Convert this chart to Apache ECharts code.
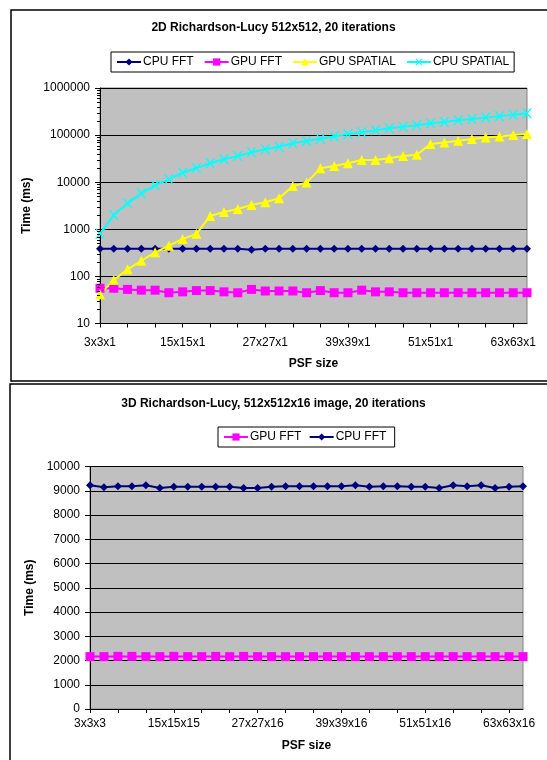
<!DOCTYPE html>
<html>
<head>
<meta charset="utf-8">
<script src="https://cdn.jsdelivr.net/npm/echarts@6/dist/echarts.min.js"></script>
<style>
html,body{margin:0;padding:0;background:#fff;}
#c{width:547px;height:760px;}
</style>
</head>
<body>
<div id="c"></div>
<script>
// ---- Data: 2D chart ----
const psf2D = ['3x3x1','5x5x1','7x7x1','9x9x1','11x11x1','13x13x1','15x15x1','17x17x1','19x19x1','21x21x1','23x23x1','25x25x1','27x27x1','29x29x1','31x31x1','33x33x1','35x35x1','37x37x1','39x39x1','41x41x1','43x43x1','45x45x1','47x47x1','49x49x1','51x51x1','53x53x1','55x55x1','57x57x1','59x59x1','61x61x1','63x63x1','65x65x1'];
const cpuFft2D = [385,385,385,385,385,385,385,385,385,385,385,370,385,385,385,385,385,385,385,385,385,385,385,385,385,385,385,385,385,385,385,385];
const gpuFft2D = [56,56,53,51,51,45,47,50,50,47,45,53,49,49,49,45,50,45,45,51,47,47,45,45,45,45,45,45,45,45,45,45];
const gpuSpatial2D = [42,84,141,215,325,450,620,800,1920,2330,2700,3300,3740,4560,8300,9800,19700,22000,25200,29600,29600,32300,36000,38400,65000,70000,76000,83000,88600,93000,100000,105000];
const cpuSpatial2D = [800,2000,3560,5800,8700,11500,15900,20000,25200,30600,36000,43000,50000,56500,67000,75000,83500,93000,105000,115000,126000,139000,150000,161000,178000,190000,206000,220000,235000,250000,272000,290000];

// ---- Data: 3D chart ----
const psf3D = ['3x3x3','5x5x5','7x7x7','9x9x9','11x11x11','13x13x13','15x15x15','17x17x16','19x19x16','21x21x16','23x23x16','25x25x16','27x27x16','29x29x16','31x31x16','33x33x16','35x35x16','37x37x16','39x39x16','41x41x16','43x43x16','45x45x16','47x47x16','49x49x16','51x51x16','53x53x16','55x55x16','57x57x16','59x59x16','61x61x16','63x63x16','65x65x16'];
const gpuFft3D = [2160,2160,2170,2170,2160,2160,2170,2160,2160,2170,2160,2170,2160,2160,2160,2160,2160,2160,2160,2160,2160,2160,2160,2160,2160,2160,2160,2160,2160,2160,2160,2160];
const cpuFft3D = [9230,9140,9190,9190,9230,9110,9165,9165,9165,9165,9165,9110,9110,9165,9190,9190,9190,9190,9190,9230,9165,9190,9190,9165,9165,9110,9230,9190,9230,9110,9165,9190];

const titles = ['2D Richardson-Lucy 512x512, 20 iterations', '3D Richardson-Lucy, 512x512x16 image, 20 iterations'];
const yName = 'Time (ms)';
const xName = 'PSF size';

const FONT = '"Liberation Sans", Arial, sans-serif';
const NAVY = '#000080', MAG = '#FF00FF', YEL = '#FFFF00', CYAN = '#00FFFF';
const XSYM = 'path://M0,0L1.6,0L5,4L8.4,0L10,0L6,5L10,10L8.4,10L5,6L1.6,10L0,10L4,5Z';

const chart = echarts.init(document.getElementById('c'), null, {renderer: 'canvas'});

function xAxis(gi, data, margin, nameGap) {
  return {
    type: 'category', gridIndex: gi, data: data, boundaryGap: false,
    axisLine: {show: true, lineStyle: {color: '#000', width: 1}},
    axisTick: {show: true, interval: 1, length: 4, inside: false, lineStyle: {color: '#000'}},
    axisLabel: {interval: 5, color: '#000', fontFamily: FONT, fontSize: 12, margin: margin, hideOverlap: false},
    splitLine: {show: false},
    name: xName, nameLocation: 'middle', nameGap: nameGap,
    nameTextStyle: {color: '#000', fontFamily: FONT, fontSize: 12, fontWeight: 'bold'}
  };
}

function lineSeries(name, xi, data, symbol, size, col) {
  return {name: name, type: 'line', xAxisIndex: xi, yAxisIndex: xi, data: data,
    symbol: symbol, symbolSize: size, showSymbol: true, showAllSymbol: true,
    color: col, itemStyle: {color: col}, lineStyle: {color: col, width: 2},
    emphasis: {disabled: true}};
}

function legendStyle(gap) {
  return {orient: 'horizontal', itemWidth: 24, itemHeight: 9, itemGap: gap,
    padding: [4, 5], borderColor: '#000', borderWidth: 1, backgroundColor: '#fff',
    textStyle: {fontFamily: FONT, fontSize: 12, color: '#000', padding: [0,0,0,-3]}};
}

const option = {
  animation: false,
  backgroundColor: '#fff',
  title: [
    {text: titles[0], left: 'center', top: 22, padding: 0,
     textStyle: {fontFamily: FONT, fontSize: 12, fontWeight: 'bold', color: '#000'}},
    {text: titles[1], left: 'center', top: 398, padding: 0,
     textStyle: {fontFamily: FONT, fontSize: 12, fontWeight: 'bold', color: '#000'}}
  ],
  legend: [
    Object.assign({left: 111, top: 52, data: ['CPU FFT', 'GPU FFT', 'GPU SPATIAL', 'CPU SPATIAL']}, legendStyle(10)),
    Object.assign({left: 218, top: 427, data: ['GPU FFT ', 'CPU FFT ']}, legendStyle(4))
  ],
  grid: [
    {left: 100, top: 88, width: 427, height: 235.5, show: true, backgroundColor: '#C0C0C0', borderColor: '#808080', borderWidth: 1, containLabel: false},
    {left: 90, top: 466.5, width: 433, height: 242.5, show: true, backgroundColor: '#C0C0C0', borderColor: '#808080', borderWidth: 1, containLabel: false}
  ],
  xAxis: [xAxis(0, psf2D, 13, 34), xAxis(1, psf3D, 9, 31)],
  yAxis: [
    {type: 'log', logBase: 10, gridIndex: 0, min: 10, max: 1000000, splitNumber: 5,
     axisLine: {show: true, lineStyle: {color: '#000', width: 1}},
     axisTick: {show: true, length: 5, lineStyle: {color: '#000'}},
     axisLabel: {color: '#000', fontFamily: FONT, fontSize: 12, margin: 10,
       formatter: function (v) { return String(Math.round(v)); }},
     splitLine: {show: true, lineStyle: {color: '#000', width: 1}},
     name: yName, nameLocation: 'middle', nameGap: 66, nameRotate: 90,
     nameTextStyle: {color: '#000', fontFamily: FONT, fontSize: 12, fontWeight: 'bold'}},
    {type: 'value', gridIndex: 1, min: 0, max: 10000, interval: 1000,
     axisLine: {show: true, lineStyle: {color: '#000', width: 1}},
     axisTick: {show: true, length: 5, lineStyle: {color: '#000'}},
     axisLabel: {color: '#000', fontFamily: FONT, fontSize: 12, margin: 10,
       formatter: function (v) { return String(v); }},
     splitLine: {show: true, lineStyle: {color: '#000', width: 1}},
     name: yName, nameLocation: 'middle', nameGap: 50, nameRotate: 90,
     nameTextStyle: {color: '#000', fontFamily: FONT, fontSize: 12, fontWeight: 'bold'}}
  ],
  series: [
    lineSeries('CPU FFT', 0, cpuFft2D, 'diamond', 8, NAVY),
    lineSeries('GPU FFT', 0, gpuFft2D, 'rect', 9, MAG),
    lineSeries('GPU SPATIAL', 0, gpuSpatial2D, 'triangle', 10, YEL),
    lineSeries('CPU SPATIAL', 0, cpuSpatial2D, XSYM, 10, CYAN),
    lineSeries('GPU FFT ', 1, gpuFft3D, 'rect', 9, MAG),
    lineSeries('CPU FFT ', 1, cpuFft3D, 'diamond', 8, NAVY)
  ]
};
chart.setOption(option);

// Frames and log minor ticks (positions derived from the axis scale)
const graphics = [
  {type: 'rect', shape: {x: 11, y: 10, width: 600, height: 371}, style: {fill: null, stroke: '#000', lineWidth: 1.5}, silent: true, z: 100},
  {type: 'rect', shape: {x: 10, y: 384, width: 600, height: 420}, style: {fill: null, stroke: '#000', lineWidth: 1.5}, silent: true, z: 100}
];
for (let k = 1; k <= 5; k++) {
  for (let m = 2; m <= 9; m++) {
    const v = m * Math.pow(10, k);
    const p = chart.convertToPixel({xAxisIndex: 0, yAxisIndex: 0}, [0, v]);
    if (p) {
      graphics.push({type: 'line', shape: {x1: p[0] - 3, y1: Math.round(p[1]) + 0.5, x2: p[0], y2: Math.round(p[1]) + 0.5},
        style: {stroke: '#000', lineWidth: 1}, silent: true, z: 50});
    }
  }
}
chart.setOption({graphic: graphics});
</script>
</body>
</html>
